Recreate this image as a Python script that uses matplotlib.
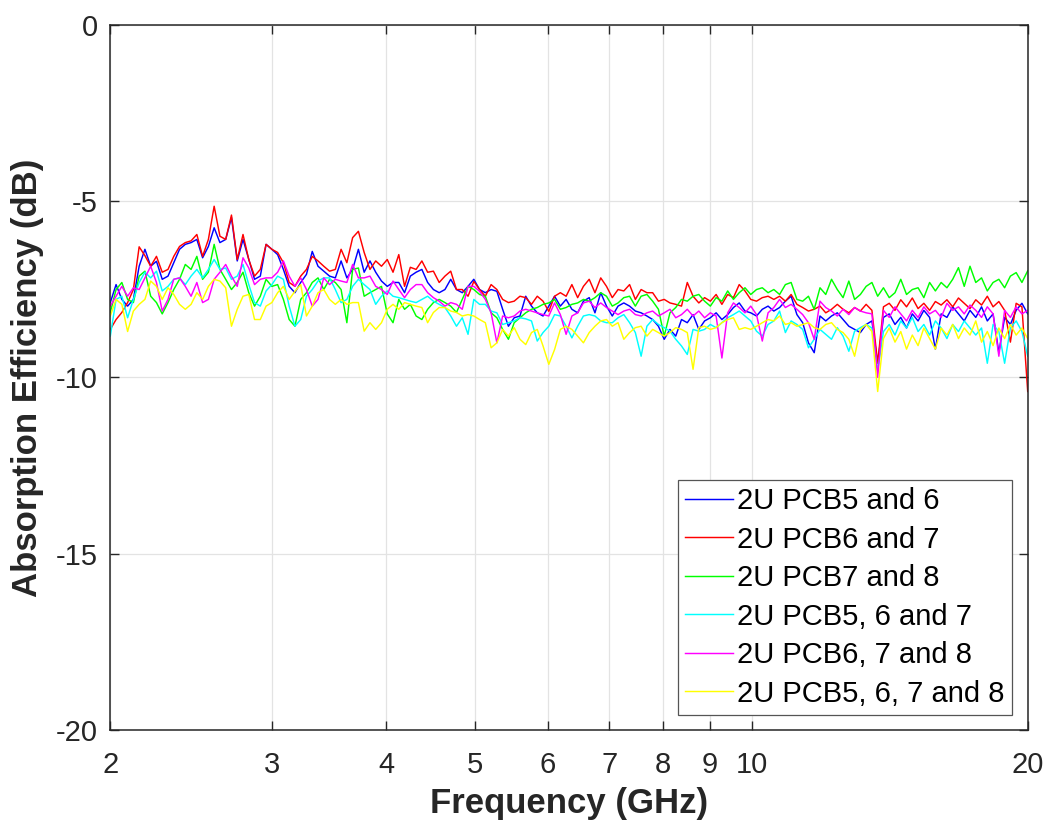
import numpy as np
import matplotlib
matplotlib.use("Agg")
import matplotlib.pyplot as plt
from matplotlib.ticker import FixedLocator, FixedFormatter, NullLocator

plt.rcParams['font.family'] = ['Liberation Sans', 'DejaVu Sans']
plt.rcParams['axes.unicode_minus'] = False

# Frequency sweep (GHz), log-spaced sample points between 2 and 20 GHz
freq = np.geomspace(2, 20, 160)

labels = ["2U PCB5 and 6", "2U PCB6 and 7", "2U PCB7 and 8",
          "2U PCB5, 6 and 7", "2U PCB6, 7 and 8", "2U PCB5, 6, 7 and 8"]
colors = ["#0000ff", "#ff0000", "#00ff00", "#00ffff", "#ff00ff", "#ffff00"]

pcb56 = [
    -7.88, -7.37, -7.79, -7.98, -7.79, -6.85, -6.37, -6.85, -6.71, -7.22,
    -7.13, -6.75, -6.37, -6.23, -6.18, -6.09, -6.61, -6.29, -5.76, -6.18,
    -6.09, -5.47, -6.70, -6.09, -6.66, -7.22, -7.13, -6.23, -6.37, -6.52,
    -6.94, -7.42, -7.60, -7.31, -7.08, -6.43, -6.85, -6.99, -7.13, -7.18,
    -6.70, -7.18, -6.94, -6.37, -7.02, -6.70, -7.02, -7.27, -7.42, -7.31,
    -7.31, -7.60, -7.13, -7.02, -6.94, -7.31, -7.51, -7.60, -7.51, -7.22,
    -7.51, -7.60, -7.42, -7.22, -7.51, -7.60, -7.51, -7.56, -8.07, -8.55,
    -8.31, -8.26, -7.70, -7.98, -8.17, -8.26, -7.98, -7.70, -7.98, -7.79,
    -8.07, -8.17, -7.84, -7.74, -8.17, -7.60, -7.98, -8.26, -7.98, -7.89,
    -7.98, -8.12, -8.17, -8.26, -8.36, -8.55, -8.92, -8.64, -8.83, -8.36,
    -8.45, -8.22, -8.64, -8.40, -8.31, -8.17, -8.36, -8.22, -8.02, -7.89,
    -8.12, -8.17, -8.26, -8.07, -7.98, -8.12, -8.02, -7.84, -7.70, -8.22,
    -8.45, -9.02, -9.30, -8.26, -8.40, -8.26, -8.17, -8.36, -8.55, -8.64,
    -8.73, -8.50, -8.40, -9.60, -8.30, -8.20, -8.50, -8.30, -8.60, -8.20,
    -8.40, -8.10, -8.30, -9.20, -8.20, -8.30, -8.00, -8.20, -8.40, -8.10,
    -8.30, -8.00, -8.40, -8.20, -9.30, -8.30, -8.50, -8.10, -7.90, -8.20,
]

pcb67 = [
    -8.64, -8.36, -8.16, -7.88, -7.51, -6.30, -6.55, -6.85, -6.57, -7.02,
    -6.94, -6.57, -6.29, -6.18, -6.13, -5.95, -6.57, -6.09, -5.15, -6.00,
    -6.09, -5.40, -6.66, -5.95, -6.66, -7.13, -6.94, -6.23, -6.37, -6.46,
    -6.75, -7.31, -7.42, -7.13, -6.94, -6.57, -6.70, -6.85, -6.99, -6.94,
    -6.37, -6.75, -6.04, -5.86, -6.46, -6.94, -6.70, -6.85, -6.66, -7.02,
    -6.52, -7.42, -6.88, -6.94, -6.70, -7.02, -6.99, -7.31, -7.13, -6.99,
    -7.51, -7.51, -7.70, -7.28, -7.51, -7.70, -7.37, -7.51, -7.79, -7.88,
    -7.84, -7.70, -7.74, -7.93, -7.70, -7.84, -8.13, -7.70, -7.60, -7.70,
    -7.37, -7.74, -7.42, -7.22, -7.60, -7.18, -7.42, -7.74, -7.51, -7.55,
    -7.37, -7.79, -7.51, -7.60, -7.60, -7.84, -7.79, -7.89, -7.93, -7.98,
    -7.31, -7.70, -7.89, -7.74, -7.84, -7.65, -7.93, -7.65, -7.74, -7.37,
    -7.55, -7.79, -7.84, -7.74, -7.70, -7.79, -7.70, -7.84, -7.65, -7.93,
    -8.02, -8.12, -8.07, -7.98, -8.17, -8.07, -7.93, -8.07, -8.17, -8.02,
    -8.12, -7.93, -8.10, -9.60, -8.00, -7.90, -8.10, -7.80, -8.00, -7.75,
    -8.05, -7.90, -8.10, -7.85, -7.95, -7.80, -8.00, -7.75, -7.90, -8.05,
    -7.80, -7.95, -7.70, -8.00, -7.85, -8.10, -9.00, -7.90, -8.00, -10.40,
]

pcb78 = [
    -8.16, -7.51, -7.31, -7.79, -7.88, -7.13, -6.99, -7.70, -7.88, -8.20,
    -7.88, -7.51, -7.22, -6.80, -6.94, -6.57, -7.22, -7.02, -6.23, -6.94,
    -7.22, -7.51, -7.31, -7.02, -7.60, -7.98, -7.70, -7.22, -7.42, -7.37,
    -7.79, -8.36, -8.55, -7.79, -7.60, -7.31, -7.18, -7.51, -7.22, -7.31,
    -7.51, -8.45, -6.94, -6.90, -7.70, -7.60, -7.51, -7.42, -8.20, -8.45,
    -7.79, -8.07, -7.93, -8.26, -8.36, -8.07, -7.88, -7.79, -7.88, -7.98,
    -8.16, -7.79, -7.42, -7.51, -7.65, -7.70, -8.17, -8.31, -8.64, -8.92,
    -8.45, -8.31, -8.17, -8.07, -8.02, -7.93, -7.89, -7.79, -8.07, -8.02,
    -7.93, -7.89, -7.79, -7.84, -7.74, -7.60, -7.70, -7.98, -7.89, -7.74,
    -7.70, -7.98, -7.70, -7.65, -7.84, -8.07, -8.83, -8.17, -8.02, -7.79,
    -7.84, -7.70, -7.65, -7.84, -7.98, -7.74, -7.84, -7.55, -7.79, -7.60,
    -7.46, -7.65, -7.51, -7.46, -7.60, -7.51, -7.65, -7.37, -7.31, -7.79,
    -7.84, -7.70, -8.07, -7.46, -7.65, -7.22, -7.51, -7.74, -7.27, -7.79,
    -7.65, -7.42, -7.31, -7.70, -7.46, -7.74, -7.60, -7.22, -7.65, -7.51,
    -7.46, -7.74, -7.31, -7.55, -7.31, -7.46, -7.22, -6.89, -7.42, -6.85,
    -7.31, -7.18, -7.55, -7.31, -7.22, -7.46, -7.13, -7.03, -7.31, -6.98,
]

pcb567 = [
    -8.83, -7.79, -7.70, -8.31, -7.79, -7.31, -7.02, -7.18, -6.99, -7.55,
    -7.42, -7.22, -7.18, -7.37, -7.13, -6.94, -7.18, -6.94, -6.66, -6.94,
    -6.90, -7.22, -7.13, -6.80, -7.37, -7.88, -7.98, -7.55, -7.37, -7.13,
    -7.22, -7.98, -8.55, -8.36, -7.70, -7.51, -7.27, -7.18, -7.18, -7.51,
    -7.88, -7.79, -7.42, -7.22, -7.37, -7.51, -7.93, -7.70, -7.55, -7.70,
    -7.74, -7.79, -7.84, -7.88, -7.79, -7.70, -7.84, -7.93, -8.02, -8.26,
    -8.55, -8.31, -8.78, -7.79, -7.93, -7.93, -8.12, -8.17, -8.50, -8.45,
    -8.40, -8.31, -8.34, -8.40, -8.97, -8.73, -8.55, -8.22, -8.26, -8.55,
    -8.88, -8.55, -8.26, -8.22, -8.26, -8.40, -8.45, -8.45, -8.31, -8.22,
    -8.45, -8.73, -9.40, -8.55, -8.36, -8.50, -8.59, -8.69, -8.92, -9.11,
    -9.35, -8.64, -8.69, -8.64, -8.50, -8.59, -8.45, -8.31, -8.22, -8.12,
    -8.26, -8.40, -8.69, -8.83, -8.50, -8.40, -8.12, -8.73, -8.40, -8.50,
    -8.64, -9.16, -8.92, -8.64, -8.78, -8.92, -8.59, -8.83, -9.26, -8.69,
    -8.59, -8.50, -8.60, -9.80, -8.70, -8.50, -8.80, -8.40, -8.60, -8.30,
    -8.70, -8.50, -8.80, -8.40, -8.60, -8.90, -8.50, -8.70, -8.40, -8.60,
    -8.80, -8.60, -9.60, -8.50, -8.70, -9.60, -8.60, -8.40, -8.70, -9.40,
]

pcb678 = [
    -7.98, -7.70, -7.42, -7.70, -7.46, -7.51, -7.18, -6.85, -7.31, -8.12,
    -7.79, -7.22, -7.18, -7.42, -7.70, -7.31, -7.88, -7.79, -7.22, -7.02,
    -6.80, -7.13, -7.42, -6.61, -6.90, -7.37, -7.22, -7.18, -7.18, -7.02,
    -6.70, -7.13, -7.42, -7.18, -7.51, -7.98, -7.79, -7.18, -7.37, -7.22,
    -7.27, -7.31, -6.80, -7.18, -7.18, -7.13, -7.42, -7.51, -7.65, -7.27,
    -7.51, -7.74, -7.51, -7.37, -7.37, -7.60, -7.74, -7.84, -7.98, -7.88,
    -7.93, -8.07, -7.42, -7.42, -7.56, -7.79, -8.17, -9.02, -8.26, -8.31,
    -8.26, -8.12, -8.07, -8.12, -8.17, -8.22, -8.26, -7.89, -8.22, -8.78,
    -8.26, -8.17, -7.89, -7.84, -8.02, -7.89, -8.02, -8.12, -8.22, -8.12,
    -8.07, -8.22, -8.26, -8.17, -8.12, -8.26, -8.17, -8.07, -8.31, -8.22,
    -8.07, -8.26, -8.12, -8.31, -8.17, -8.26, -9.45, -8.17, -7.89, -8.02,
    -8.17, -7.98, -8.22, -8.97, -8.17, -8.02, -7.79, -8.02, -7.93, -8.07,
    -8.22, -8.45, -8.92, -7.84, -8.02, -8.12, -8.26, -8.07, -8.22, -8.02,
    -8.12, -8.17, -8.20, -10.00, -8.10, -8.30, -8.00, -8.20, -8.40, -8.10,
    -8.30, -8.00, -8.20, -8.10, -8.30, -7.90, -8.10, -8.00, -8.20, -7.95,
    -8.10, -8.30, -8.00, -8.20, -9.40, -8.10, -8.30, -8.00, -8.20, -8.10,
]

pcb5678 = [
    -8.26, -7.79, -7.93, -8.70, -8.12, -7.93, -7.79, -7.27, -7.42, -7.79,
    -7.46, -7.65, -7.93, -8.07, -7.93, -7.60, -7.79, -7.42, -7.22, -7.27,
    -7.46, -8.55, -8.07, -7.70, -7.65, -8.36, -8.36, -7.98, -7.88, -7.60,
    -7.42, -7.79, -7.56, -7.37, -8.26, -7.98, -7.60, -7.51, -7.79, -7.93,
    -7.79, -7.93, -7.88, -7.88, -8.69, -8.45, -8.64, -8.45, -8.07, -7.93,
    -8.07, -7.88, -7.93, -7.98, -8.02, -8.45, -8.16, -8.02, -8.02, -8.12,
    -8.16, -8.26, -8.22, -8.26, -8.36, -8.45, -9.16, -9.02, -8.64, -8.83,
    -8.59, -8.92, -9.07, -8.73, -8.64, -9.11, -9.63, -9.21, -8.64, -8.55,
    -8.64, -8.83, -9.02, -8.73, -8.55, -8.40, -8.36, -8.55, -8.45, -8.92,
    -8.73, -8.59, -8.55, -8.83, -8.64, -8.73, -8.83, -8.73, -8.59, -8.64,
    -8.73, -9.77, -8.59, -8.55, -8.64, -8.59, -8.45, -8.36, -8.31, -8.64,
    -8.59, -8.64, -8.55, -8.45, -8.36, -8.40, -8.26, -8.50, -8.45, -8.55,
    -8.50, -8.45, -8.59, -8.64, -8.50, -8.45, -8.64, -8.73, -8.92, -9.40,
    -8.64, -8.50, -8.70, -10.40, -8.90, -8.60, -9.00, -8.70, -9.20, -8.80,
    -9.10, -8.60, -8.90, -9.20, -8.60, -8.80, -8.50, -8.90, -8.60, -8.80,
    -8.40, -9.00, -8.70, -9.10, -8.60, -8.90, -8.50, -8.80, -8.60, -8.90,
]

series = [pcb56, pcb67, pcb78, pcb567, pcb678, pcb5678]

x_ticks = [2, 3, 4, 5, 6, 7, 8, 9, 10, 20]
x_ticklabels = ["2", "3", "4", "5", "6", "7", "8", "9", "10", "20"]
y_ticks = [-20, -15, -10, -5, 0]
y_ticklabels = ["-20", "-15", "-10", "-5", "0"]

W, H = 1053, 827
fig = plt.figure(figsize=(W / 100, H / 100), dpi=100)
ax = fig.add_axes([110.3 / W, 1 - 730.3 / H, 917.4 / W, 705.8 / H])

axcol = "#262626"
for vals, col, lab in zip(series, colors, labels):
    ax.plot(freq, vals, color=col, lw=1.05, label=lab)

ax.set_xscale("log")
ax.set_xlim(2, 20)
ax.set_ylim(-20, 0)
ax.xaxis.set_major_locator(FixedLocator(x_ticks))
ax.xaxis.set_major_formatter(FixedFormatter(x_ticklabels))
ax.xaxis.set_minor_locator(NullLocator())
ax.yaxis.set_major_locator(FixedLocator(y_ticks))
ax.yaxis.set_major_formatter(FixedFormatter(y_ticklabels))

ax.grid(True, color="#e3e3e3", lw=0.9)
ax.set_axisbelow(True)

for s in ax.spines.values():
    s.set_color(axcol)
    s.set_linewidth(1.1)

ax.tick_params(axis="both", which="major", direction="in", length=6.7, width=1.0,
               color=axcol, labelcolor=axcol, labelsize=21,
               top=True, right=True)
ax.tick_params(axis="x", pad=15)
ax.tick_params(axis="y", pad=9)

ax.set_xlabel("Frequency (GHz)", fontsize=25, fontweight="bold", color=axcol)
ax.set_ylabel("Absorption Efficiency (dB)", fontsize=25, fontweight="bold", color=axcol)
ax.xaxis.set_label_coords(0.5, -0.081)
ax.yaxis.set_label_coords(-0.072, 0.5)

leg = ax.legend(loc="lower right", bbox_to_anchor=(0.9826, 0.0217), borderaxespad=0,
                fontsize=21, frameon=True, fancybox=False, framealpha=1,
                edgecolor="#555555", handlelength=1.64, handletextpad=0.13,
                labelspacing=0.36, borderpad=0.25)
leg.get_frame().set_linewidth(0.9)

fig.savefig("out.png", dpi=100)
